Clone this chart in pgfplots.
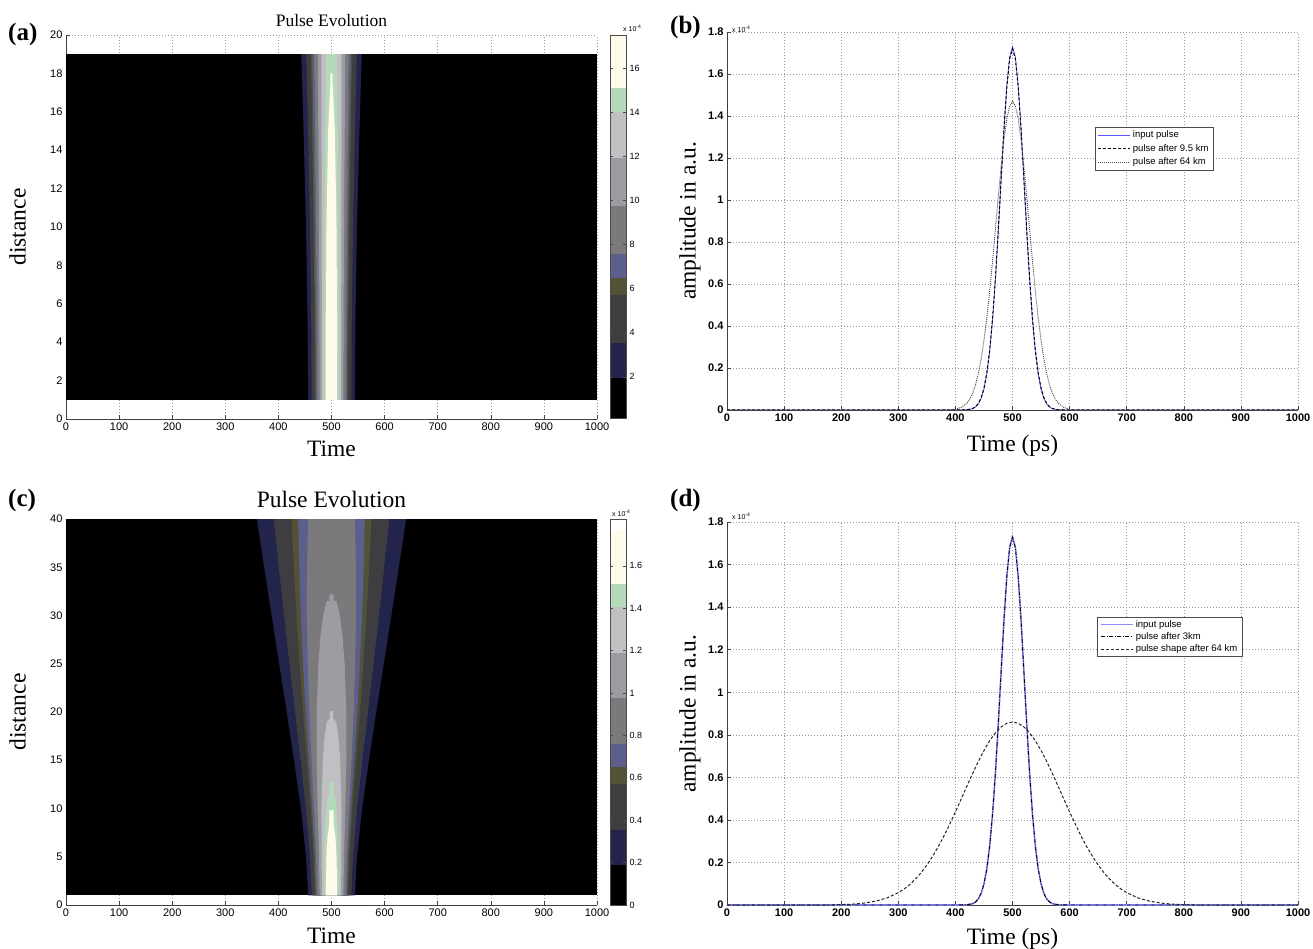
\documentclass[border=0pt]{standalone}
\usepackage{fontspec}
\setmainfont{Liberation Serif}
\setsansfont{Liberation Sans}
\usepackage{pgfplots}
\pgfplotsset{compat=1.18}

\definecolor{cbNavy}{RGB}{34,36,76}
\definecolor{cbDark}{RGB}{62,62,64}
\definecolor{cbOlive}{RGB}{82,82,54}
\definecolor{cbBlue}{RGB}{92,94,140}
\definecolor{cbGray}{RGB}{122,122,124}
\definecolor{cbLGray}{RGB}{156,156,162}
\definecolor{cbLLGray}{RGB}{192,192,194}
\definecolor{cbGreen}{RGB}{180,218,186}
\definecolor{cbCream}{RGB}{254,251,234}

\pgfplotsset{
  base/.style={scale only axis, anchor=south west, xmin=0, xmax=1000,
    xtick={0,100,...,1000}, axis lines=left,
    axis line style={-, black!75, line width=0.6pt},
    tick align=inside, major tick length=4pt,
    tick style={black!75, line width=0.5pt},
    grid=major, grid style={black!40, line width=0.5pt, dash pattern=on 1pt off 2pt},
    /pgf/number format/assume math mode=true,
    /pgf/number format/1000 sep={},
    label style={font=\fontsize{23.5}{24}\selectfont},
    xlabel style={at={(axis description cs:0.5,0)}, anchor=north, inner sep=0pt},
    ylabel style={anchor=center, inner sep=0pt},
  },
  mapax/.style={base, xlabel={Time}, ylabel={distance},
    tick label style={font=\sffamily\fontsize{11}{12}\selectfont},
    ylabel style={at={(axis description cs:-0.091,0.5)}},
    title style={at={(axis description cs:0.5,1)}, anchor=south, inner sep=0pt},
  },
  lineax/.style={base, ymin=0, ymax=1.8, xlabel={Time (ps)}, ylabel={amplitude in a.u.},
    ytick={0,0.2,0.4,0.6,0.8,1,1.2,1.4,1.6,1.8},
    tick label style={font=\sffamily\bfseries\fontsize{11}{12}\selectfont},
    ylabel style={at={(axis description cs:-0.065,0.5)}},
    legend cell align=left,
    legend image code/.code={\draw[##1] (0pt,0pt) -- (32pt,0pt);},
  },
  cbar/.style={scale only axis, anchor=south west, width=16pt, xmin=0, xmax=1,
    xtick=\empty, axis on top, yticklabel pos=right, ytick pos=both,
    tick align=inside, major tick length=3pt,
    axis line style={black!70, line width=0.5pt}, tick style={black!70},
    /pgf/number format/assume math mode=true,
    tick label style={font=\sffamily\fontsize{9}{10}\selectfont},
  },
}

\begin{document}
\begin{tikzpicture}
\fill[white] (0pt,0pt) rectangle (1313pt,948pt);
\path[use as bounding box] (0pt,0pt) rectangle (1313pt,948pt);

% ---------------- (a) ----------------
\begin{axis}[mapax, at={(66pt,529pt)}, width=531pt, height=384pt,
  ymin=0, ymax=20, ytick={0,2,...,20},
  title={Pulse Evolution}, title style={font=\fontsize{17.5}{18}\selectfont, yshift=2pt},
  xlabel style={yshift=-22pt}]
\addplot[fill=black, draw=none] coordinates {(0,1)(1000,1)(1000,19)(0,19)};
\addplot[fill=cbNavy, draw=none] coordinates {(456,1)(455,5)(452,10)(447.5,15)(443,19)(557,19)(552.5,15)(548,10)(545,5)(544,1)};
\addplot[fill=cbDark, draw=none] coordinates {(462.7,1)(461.9,5)(459.5,10)(455.9,15)(452.4,19)(547.6,19)(544.1,15)(540.5,10)(538.1,5)(537.3,1)};
\addplot[fill=cbOlive, draw=none] coordinates {(468.8,1)(468.2,5)(466.4,10)(463.6,15)(461.1,19)(538.9,19)(536.4,15)(533.6,10)(531.8,5)(531.2,1)};
\addplot[fill=cbBlue, draw=none] coordinates {(470.7,1)(470.2,5)(468.5,10)(466.1,15)(463.8,19)(536.2,19)(533.9,15)(531.5,10)(529.8,5)(529.3,1)};
\addplot[fill=cbGray, draw=none] coordinates {(473.2,1)(472.7,5)(471.3,10)(469.3,15)(467.4,19)(532.6,19)(530.7,15)(528.7,10)(527.3,5)(526.8,1)};
\addplot[fill=cbLGray, draw=none] coordinates {(477.6,1)(477.3,5)(476.4,10)(475.1,15)(474.1,19)(525.9,19)(524.9,15)(523.6,10)(522.7,5)(522.4,1)};
\addplot[fill=cbLLGray, draw=none] coordinates {(481.9,1)(481.8,5)(481.4,10)(481.1,15)(481.1,19)(518.9,19)(518.9,15)(518.6,10)(518.2,5)(518.1,1)};
\addplot[fill=cbGreen, draw=none] coordinates {(486.5,1)(486.6,5)(487,10)(488.2,15)(490.2,19)(509.8,19)(511.8,15)(513,10)(513.4,5)(513.5,1)};
\addplot[fill=cbCream, draw=none] coordinates {(489.2,1)(489.5,5)(490.6,10)(493.6,15)(497.9,17.5)(498,18)(502,18)(502.1,17.5)(506.4,15)(509.4,10)(510.5,5)(510.8,1)};
\end{axis}

\begin{axis}[cbar, at={(610pt,530pt)}, height=383pt, ymin=0.13, ymax=17.5, ytick={2,4,...,16}]
\addplot[fill=black, draw=none] coordinates {(0,0.13)(1,0.13)(1,1.96)(0,1.96)};
\addplot[fill=cbNavy, draw=none] coordinates {(0,1.96)(1,1.96)(1,3.54)(0,3.54)};
\addplot[fill=cbDark, draw=none] coordinates {(0,3.54)(1,3.54)(1,5.70)(0,5.70)};
\addplot[fill=cbOlive, draw=none] coordinates {(0,5.70)(1,5.70)(1,6.49)(0,6.49)};
\addplot[fill=cbBlue, draw=none] coordinates {(0,6.49)(1,6.49)(1,7.59)(0,7.59)};
\addplot[fill=cbGray, draw=none] coordinates {(0,7.59)(1,7.59)(1,9.74)(0,9.74)};
\addplot[fill=cbLGray, draw=none] coordinates {(0,9.74)(1,9.74)(1,11.93)(0,11.93)};
\addplot[fill=cbLLGray, draw=none] coordinates {(0,11.93)(1,11.93)(1,14.03)(0,14.03)};
\addplot[fill=cbGreen, draw=none] coordinates {(0,14.03)(1,14.03)(1,15.11)(0,15.11)};
\addplot[fill=cbCream, draw=none] coordinates {(0,15.11)(1,15.11)(1,17.5)(0,17.5)};
\end{axis}
\node[anchor=base west, font=\sffamily\fontsize{7}{7}\selectfont, inner sep=0pt] at (623pt,916pt) {x 10\textsuperscript{-4}};

% ---------------- (b) ----------------
\begin{axis}[lineax, at={(727pt,538pt)}, width=571pt, height=378pt,
  xlabel style={yshift=-25pt},
  legend style={at={(0.644,0.749)}, anchor=north west,
    font=\sffamily\fontsize{9.5}{10}\selectfont, draw=black!70,
    inner xsep=3pt, inner ysep=2pt, row sep=1pt}]
\addplot[color=blue!65!white, line width=0.8pt] coordinates {(0,0)(400,0)(420,0.001)(430,0.006)(435,0.014)(440,0.028)(445,0.054)(450,0.099)(455,0.170)(460,0.277)(465,0.426)(470,0.617)(475,0.846)(480,1.094)(485,1.337)(490,1.543)(495,1.681)(500,1.730)(505,1.681)(510,1.543)(515,1.337)(520,1.094)(525,0.846)(530,0.617)(535,0.426)(540,0.277)(545,0.170)(550,0.099)(555,0.054)(560,0.028)(565,0.014)(570,0.006)(580,0.001)(600,0)(1000,0)};
\addplot[color=black, line width=1pt, dash pattern=on 3pt off 2pt] coordinates {(0,0)(400,0)(420,0.001)(430,0.007)(435,0.015)(440,0.030)(445,0.058)(450,0.104)(455,0.177)(460,0.285)(465,0.435)(470,0.626)(475,0.852)(480,1.098)(485,1.336)(490,1.537)(495,1.672)(500,1.720)(505,1.672)(510,1.537)(515,1.336)(520,1.098)(525,0.852)(530,0.626)(535,0.435)(540,0.285)(545,0.177)(550,0.104)(555,0.058)(560,0.030)(565,0.015)(570,0.007)(580,0.001)(600,0)(1000,0)};
\addplot[color=black!70, line width=0.9pt, dash pattern=on 1pt off 1pt] coordinates {(0,0)(380,0)(390,0.001)(400,0.004)(410,0.012)(420,0.032)(425,0.051)(430,0.079)(435,0.118)(440,0.172)(445,0.242)(450,0.331)(455,0.439)(460,0.566)(465,0.708)(470,0.859)(475,1.013)(480,1.158)(485,1.285)(490,1.385)(495,1.448)(500,1.470)(505,1.448)(510,1.385)(515,1.285)(520,1.158)(525,1.013)(530,0.859)(535,0.708)(540,0.566)(545,0.439)(550,0.331)(555,0.242)(560,0.172)(565,0.118)(570,0.079)(575,0.051)(580,0.032)(590,0.012)(600,0.004)(610,0.001)(620,0)(1000,0)};
\legend{input pulse, pulse after 9.5 km, pulse after 64 km}
\end{axis}
\node[anchor=base west, font=\sffamily\fontsize{7}{7}\selectfont, inner sep=0pt] at (732pt,915pt) {x 10\textsuperscript{-4}};

% ---------------- (c) ----------------
\begin{axis}[mapax, at={(66pt,43pt)}, width=531pt, height=386pt,
  ymin=0, ymax=40, ytick={0,5,...,40},
  title={Pulse Evolution}, title style={font=\fontsize{23.5}{24}\selectfont, yshift=5pt},
  xlabel style={yshift=-23pt}]
\addplot[fill=black, draw=none] coordinates {(0,1)(1000,1)(1000,40)(0,40)};
\addplot[fill=cbNavy, draw=none] coordinates {(455.9,1)(452.1,5)(442.3,10)(429.5,15)(415.7,20)(401.5,25)(387.3,30)(373.3,35)(359.4,40)(640.6,40)(626.7,35)(612.7,30)(598.5,25)(584.3,20)(570.5,15)(557.7,10)(547.9,5)(544.1,1)};
\addplot[fill=cbDark, draw=none] coordinates {(462.6,1)(459.6,5)(451.8,10)(441.9,15)(431.4,20)(420.9,25)(410.7,30)(400.8,35)(391.4,40)(608.6,40)(599.2,35)(589.3,30)(579.1,25)(568.6,20)(558.1,15)(548.2,10)(540.4,5)(537.4,1)};
\addplot[fill=cbOlive, draw=none] coordinates {(468.8,1)(466.4,5)(460.6,10)(453.6,15)(446.5,20)(440,25)(434.2,30)(429.1,35)(425,40)(575,40)(570.9,35)(565.8,30)(560,25)(553.5,20)(546.4,15)(539.4,10)(533.6,5)(531.2,1)};
\addplot[fill=cbBlue, draw=none] coordinates {(470.7,1)(468.6,5)(463.4,10)(457.4,15)(451.5,20)(446.4,25)(442.3,30)(439.2,35)(437.2,40)(562.8,40)(560.8,35)(557.7,30)(553.6,25)(548.5,20)(542.6,15)(536.6,10)(531.4,5)(529.3,1)};
\addplot[fill=cbGray, draw=none] coordinates {(473.1,1)(471.3,5)(467.1,10)(462.4,15)(458.2,20)(455.3,25)(453.7,30)(453.9,35)(456,40)(544,40)(546.1,35)(546.3,30)(544.7,25)(541.8,20)(537.6,15)(532.9,10)(528.7,5)(526.9,1)};
\addplot[fill=cbLGray, draw=none] coordinates {(477.6,1)(476.4,5)(473.9,10)(472.1,15)(472.1,20)(475.2,25)(479.5,28)(484.3,30)(490.7,31.5)(496,31.5)(496,32.2)(504,32.2)(504,31.5)(509.3,31.5)(515.7,30)(520.5,28)(524.8,25)(527.9,20)(527.9,15)(526.1,10)(523.6,5)(522.4,1)};
\addplot[fill=cbLLGray, draw=none] coordinates {(481.9,1)(481.4,5)(481.1,10)(483.6,15)(487.1,17.5)(491.2,19)(497,19.3)(497,20.1)(503,20.1)(503,19.3)(508.8,19)(512.9,17.5)(516.4,15)(518.9,10)(518.6,5)(518.1,1)};
\addplot[fill=cbGreen, draw=none] coordinates {(486.5,1)(487,5)(488.1,7.5)(490.7,10)(492.7,11)(496,11.5)(496,12.8)(504,12.8)(504,11.5)(507.3,11)(509.3,10)(511.9,7.5)(513,5)(513.5,1)};
\addplot[fill=cbCream, draw=none] coordinates {(489.3,1)(490.5,5)(492.5,7)(496,8.5)(496,9.8)(504,9.8)(504,8.5)(507.5,7)(509.5,5)(510.7,1)};
\end{axis}

\begin{axis}[cbar, at={(610pt,43pt)}, height=386pt, ymin=0, ymax=1.82,
  ytick={0,0.2,0.4,0.6,0.8,1,1.2,1.4,1.6}]
\addplot[fill=black, draw=none] coordinates {(0,0)(1,0)(1,0.1875)(0,0.1875)};
\addplot[fill=cbNavy, draw=none] coordinates {(0,0.1875)(1,0.1875)(1,0.3525)(0,0.3525)};
\addplot[fill=cbDark, draw=none] coordinates {(0,0.3525)(1,0.3525)(1,0.57)(0,0.57)};
\addplot[fill=cbOlive, draw=none] coordinates {(0,0.57)(1,0.57)(1,0.65)(0,0.65)};
\addplot[fill=cbBlue, draw=none] coordinates {(0,0.65)(1,0.65)(1,0.76)(0,0.76)};
\addplot[fill=cbGray, draw=none] coordinates {(0,0.76)(1,0.76)(1,0.975)(0,0.975)};
\addplot[fill=cbLGray, draw=none] coordinates {(0,0.975)(1,0.975)(1,1.19)(0,1.19)};
\addplot[fill=cbLLGray, draw=none] coordinates {(0,1.19)(1,1.19)(1,1.405)(0,1.405)};
\addplot[fill=cbGreen, draw=none] coordinates {(0,1.405)(1,1.405)(1,1.515)(0,1.515)};
\addplot[fill=cbCream, draw=none] coordinates {(0,1.515)(1,1.515)(1,1.77)(0,1.77)};
\end{axis}
\node[anchor=base west, font=\sffamily\fontsize{7}{7}\selectfont, inner sep=0pt] at (612pt,431pt) {x 10\textsuperscript{-4}};

% ---------------- (d) ----------------
\begin{axis}[lineax, at={(727pt,43pt)}, width=571pt, height=383pt,
  xlabel style={yshift=-23pt},
  legend style={at={(0.648,0.752)}, anchor=north west,
    font=\sffamily\fontsize{9.5}{10}\selectfont, draw=black!70,
    inner xsep=3pt, inner ysep=1pt, row sep=0pt}]
\addplot[color=blue!45!white, line width=1.6pt] coordinates {(0,0)(400,0)(420,0.001)(430,0.006)(435,0.014)(440,0.028)(445,0.054)(450,0.099)(455,0.170)(460,0.277)(465,0.426)(470,0.617)(475,0.846)(480,1.094)(485,1.337)(490,1.543)(495,1.681)(500,1.730)(505,1.681)(510,1.543)(515,1.337)(520,1.094)(525,0.846)(530,0.617)(535,0.426)(540,0.277)(545,0.170)(550,0.099)(555,0.054)(560,0.028)(565,0.014)(570,0.006)(580,0.001)(600,0)(1000,0)};
\addplot[color=black, line width=0.9pt, dash pattern=on 4pt off 1.5pt on 1pt off 1.5pt] coordinates {(0,0)(400,0)(420,0.001)(430,0.006)(435,0.014)(440,0.028)(445,0.054)(450,0.099)(455,0.170)(460,0.277)(465,0.426)(470,0.617)(475,0.846)(480,1.094)(485,1.337)(490,1.543)(495,1.681)(500,1.728)(505,1.681)(510,1.543)(515,1.337)(520,1.094)(525,0.846)(530,0.617)(535,0.426)(540,0.277)(545,0.170)(550,0.099)(555,0.054)(560,0.028)(565,0.014)(570,0.006)(580,0.001)(600,0)(1000,0)};
\addplot[color=black!85, line width=1pt, dash pattern=on 3pt off 2pt] coordinates {(0,0)(180,0)(200,0.002)(220,0.004)(240,0.009)(260,0.018)(280,0.033)(300,0.058)(310,0.075)(320,0.096)(330,0.122)(340,0.152)(350,0.188)(360,0.229)(370,0.274)(380,0.325)(390,0.380)(400,0.437)(410,0.497)(420,0.558)(430,0.617)(440,0.674)(450,0.726)(460,0.772)(470,0.809)(480,0.837)(490,0.854)(500,0.860)(510,0.854)(520,0.837)(530,0.809)(540,0.772)(550,0.726)(560,0.674)(570,0.617)(580,0.558)(590,0.497)(600,0.437)(610,0.380)(620,0.325)(630,0.274)(640,0.229)(650,0.188)(660,0.152)(670,0.122)(680,0.096)(690,0.075)(700,0.058)(720,0.033)(740,0.018)(760,0.009)(780,0.004)(800,0.002)(820,0)(1000,0)};
\legend{input pulse, pulse after 3km, pulse shape after 64 km}
\end{axis}
\node[anchor=base west, font=\sffamily\fontsize{7}{7}\selectfont, inner sep=0pt] at (732pt,428pt) {x 10\textsuperscript{-4}};

% panel labels
\node[anchor=base west, font=\bfseries\fontsize{25}{25}\selectfont, inner sep=0pt] at (8pt,907pt) {(a)};
\node[anchor=base west, font=\bfseries\fontsize{25}{25}\selectfont, inner sep=0pt] at (670pt,914pt) {(b)};
\node[anchor=base west, font=\bfseries\fontsize{25}{25}\selectfont, inner sep=0pt] at (8pt,441pt) {(c)};
\node[anchor=base west, font=\bfseries\fontsize{25}{25}\selectfont, inner sep=0pt] at (670pt,441pt) {(d)};
\end{tikzpicture}
\end{document}
